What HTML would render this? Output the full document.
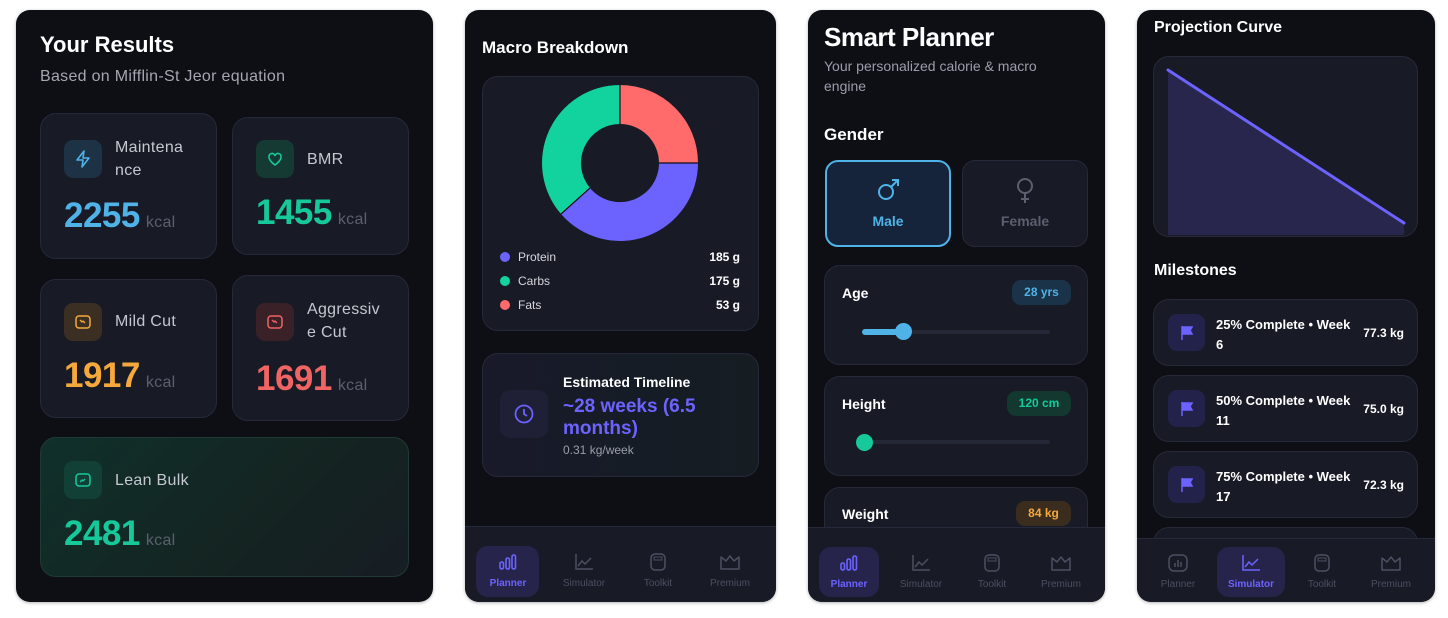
<!DOCTYPE html>
<html><head><meta charset="utf-8"><style>
*{box-sizing:border-box;margin:0;padding:0}
body{width:1448px;height:618px;background:#fff;position:relative;overflow:hidden;font-family:"Liberation Sans",sans-serif;color:#fff}
.a{position:absolute}
.p{position:absolute;background:#0e0f15;border-radius:14px;overflow:hidden;top:10px;height:592px;box-shadow:0 1px 3px rgba(0,0,0,.3)}
.c{position:absolute;background:#181a25;border:1px solid #262939;border-radius:16px}
.ib{position:absolute;width:38px;height:38px;border-radius:9px}
.lab{position:absolute;font-size:16px;color:#c5c8d0;line-height:23px;letter-spacing:.3px}
.num{position:absolute;font-size:35px;font-weight:bold;white-space:nowrap;letter-spacing:-.5px}
.num span{font-size:16px;font-weight:normal;color:#5b5f6e;margin-left:6px;letter-spacing:.3px}
.nav{position:absolute;left:0;right:0;bottom:0;background:#181a26;border-top:1px solid #262939}
.ni{position:absolute;top:0;width:70px;text-align:center;font-size:10px;color:#4b4f60}
.ni svg{display:block;margin:0 auto}
.ni div{margin-top:7px}
.pill{position:absolute;background:#26244a;border-radius:12px}
.bd{position:absolute;border-radius:9px;font-size:12px;font-weight:bold;text-align:center;line-height:25px}
.ms{position:absolute;left:16px;width:265px;height:67px}
.ms .ic{position:absolute;left:14px;top:14px;width:37px;height:37px;border-radius:9px;background:#23224a}
.ms .t{position:absolute;left:62px;top:15px;font-size:13px;font-weight:bold;line-height:20px;width:150px}
.ms .k{position:absolute;right:13px;top:26px;font-size:12px;font-weight:bold}
</style></head><body>

<!-- Panel 1 -->
<div class="p" style="left:16px;width:417px">
  <div class="a" style="left:24px;top:22px;font-size:22px;font-weight:bold">Your Results</div>
  <div class="a" style="left:24px;top:58px;font-size:16px;color:#a4a7b1;letter-spacing:.3px">Based on Mifflin-St Jeor equation</div>

  <div class="c" style="left:24px;top:103px;width:177px;height:146px"></div>
  <div class="ib" style="left:48px;top:130px;background:#1d3244"></div>
  <svg class="a" style="left:57px;top:139px" width="20" height="20" viewBox="0 0 20 20"><path d="M11 2L4 11h6l-1 7 7-9h-6z" fill="none" stroke="#4fb3e8" stroke-width="1.6" stroke-linejoin="round"/></svg>
  <div class="lab" style="left:99px;top:126px">Maintena<br>nce</div>
  <div class="num" style="left:48px;top:186px;color:#4fb3e8">2255<span>kcal</span></div>

  <div class="c" style="left:216px;top:107px;width:177px;height:138px"></div>
  <div class="ib" style="left:240px;top:130px;background:#143a33"></div>
  <svg class="a" style="left:249px;top:139px" width="20" height="20" viewBox="0 0 20 20"><path d="M10 16s-6-4-6-8a3 3 0 0 1 6-1 3 3 0 0 1 6 1c0 4-6 8-6 8z" fill="none" stroke="#15c99a" stroke-width="1.6"/></svg>
  <div class="lab" style="left:291px;top:138px">BMR</div>
  <div class="num" style="left:240px;top:183px;color:#15c99a">1455<span>kcal</span></div>

  <div class="c" style="left:24px;top:269px;width:177px;height:139px"></div>
  <div class="ib" style="left:48px;top:293px;background:#3a2f22"></div>
  <svg class="a" style="left:57px;top:302px" width="20" height="20" viewBox="0 0 20 20"><rect x="3" y="4" width="14" height="12" rx="3" fill="none" stroke="#f5a83b" stroke-width="1.5"/><path d="M7 8l2 2 1-1 2 2" fill="none" stroke="#f5a83b" stroke-width="1.3"/></svg>
  <div class="lab" style="left:99px;top:300px">Mild Cut</div>
  <div class="num" style="left:48px;top:346px;color:#f5a83b">1917<span>kcal</span></div>

  <div class="c" style="left:216px;top:265px;width:177px;height:146px"></div>
  <div class="ib" style="left:240px;top:293px;background:#3a2027"></div>
  <svg class="a" style="left:249px;top:302px" width="20" height="20" viewBox="0 0 20 20"><rect x="3" y="4" width="14" height="12" rx="3" fill="none" stroke="#f06464" stroke-width="1.5"/><path d="M7 8l2 2 1-1 2 2" fill="none" stroke="#f06464" stroke-width="1.3"/></svg>
  <div class="lab" style="left:291px;top:288px">Aggressiv<br>e Cut</div>
  <div class="num" style="left:240px;top:349px;color:#f06464">1691<span>kcal</span></div>

  <div class="c" style="left:24px;top:427px;width:369px;height:140px;background:linear-gradient(135deg,#10302b,#142421 60%,#171d24);border-color:#1f3a34"></div>
  <div class="ib" style="left:48px;top:451px;background:#124036"></div>
  <svg class="a" style="left:57px;top:460px" width="20" height="20" viewBox="0 0 20 20"><rect x="3" y="4" width="14" height="12" rx="3" fill="none" stroke="#15c99a" stroke-width="1.5"/><path d="M7 12l2-2 1 1 2-2" fill="none" stroke="#15c99a" stroke-width="1.3"/></svg>
  <div class="lab" style="left:99px;top:459px">Lean Bulk</div>
  <div class="num" style="left:48px;top:504px;color:#15c99a">2481<span>kcal</span></div>
</div>

<!-- Panel 2 -->
<div class="p" style="left:465px;width:311px">
  <div class="a" style="left:17px;top:28px;font-size:17px;font-weight:bold">Macro Breakdown</div>
  <div class="c" style="left:17px;top:66px;width:277px;height:255px"></div>
  <svg class="a" style="left:0;top:0" width="311" height="320">
    <path d="M155 75 A78 78 0 0 1 233 153 L194 153 A39 39 0 0 0 155 114 Z" fill="#ff6b6b"/>
    <path d="M233 153 A78 78 0 0 1 96 204 L125 178 A39 39 0 0 0 194 153 Z" fill="#6c63ff"/>
    <path d="M96 204 A78 78 0 0 1 155 75 L155 114 A39 39 0 0 0 125 178 Z" fill="#12d39e"/>
    <g stroke="#0e0f15" stroke-width="1.2"><line x1="155" y1="75" x2="155" y2="114"/><line x1="233" y1="153" x2="194" y2="153"/><line x1="96" y1="204" x2="125" y2="178"/></g>
  </svg>
  <div class="a" style="left:35px;top:242px;width:10px;height:10px;border-radius:5px;background:#6c63ff"></div>
  <div class="a" style="left:35px;top:266px;width:10px;height:10px;border-radius:5px;background:#12d39e"></div>
  <div class="a" style="left:35px;top:290px;width:10px;height:10px;border-radius:5px;background:#ff6b6b"></div>
  <div class="a" style="left:53px;top:235px;font-size:12px;line-height:24px;color:#d5d7de">Protein<br>Carbs<br>Fats</div>
  <div class="a" style="left:215px;top:235px;width:60px;text-align:right;font-size:12px;line-height:24px;font-weight:bold">185 g<br>175 g<br>53 g</div>

  <div class="c" style="left:17px;top:343px;width:277px;height:124px;background:linear-gradient(90deg,#181a2a,#151d22)"></div>
  <div class="a" style="left:35px;top:380px;width:48px;height:48px;border-radius:10px;background:#1f1f36"></div>
  <svg class="a" style="left:48px;top:393px" width="22" height="22" viewBox="0 0 22 22"><circle cx="11" cy="11" r="8.5" fill="none" stroke="#6c63ff" stroke-width="1.8"/><path d="M11 6v5l3 2" fill="none" stroke="#6c63ff" stroke-width="1.8"/></svg>
  <div class="a" style="left:98px;top:364px;font-size:14px;font-weight:bold">Estimated Timeline</div>
  <div class="a" style="left:98px;top:386px;font-size:19px;font-weight:bold;color:#6c63ff;line-height:22px">~28 weeks (6.5<br>months)</div>
  <div class="a" style="left:98px;top:433px;font-size:12px;color:#9a9daa">0.31 kg/week</div>

  <div class="nav" style="height:76px">
    <div class="pill" style="left:11px;top:19px;width:63px;height:51px"></div>
    <div class="ni" style="left:8px;top:26px;color:#6c63ff;font-weight:bold"><svg width="20" height="18"><g fill="none" stroke="#6c63ff" stroke-width="1.6"><rect x="2" y="9" width="3.5" height="7" rx="1.7"/><rect x="8" y="5" width="3.5" height="11" rx="1.7"/><rect x="14" y="2" width="3.5" height="14" rx="1.7"/></g></svg><div>Planner</div></div>
    <div class="ni" style="left:84px;top:26px"><svg width="20" height="18"><path d="M2 1v15h17M4 13l4-5 3 3 6-6" fill="none" stroke="#4b4f60" stroke-width="1.5"/></svg><div>Simulator</div></div>
    <div class="ni" style="left:158px;top:26px"><svg width="20" height="18"><rect x="3" y="1" width="14" height="16" rx="4" fill="none" stroke="#4b4f60" stroke-width="1.5"/><rect x="6" y="4" width="8" height="3" fill="none" stroke="#4b4f60"/></svg><div>Toolkit</div></div>
    <div class="ni" style="left:230px;top:26px"><svg width="22" height="18"><path d="M2 4l5 4 4-5 4 5 5-4v12H2z" fill="none" stroke="#4b4f60" stroke-width="1.5" stroke-linejoin="round"/></svg><div>Premium</div></div>
  </div>
</div>

<!-- Panel 3 -->
<div class="p" style="left:808px;width:297px">
  <div class="a" style="left:16px;top:12px;font-size:26px;font-weight:bold;letter-spacing:-.5px">Smart Planner</div>
  <div class="a" style="left:16px;top:46px;font-size:14px;line-height:20px;color:#9a9daa">Your personalized calorie &amp; macro<br>engine</div>
  <div class="a" style="left:16px;top:115px;font-size:17px;font-weight:bold">Gender</div>
  <div class="a" style="left:17px;top:150px;width:126px;height:87px;border:2px solid #4fb3e8;border-radius:13px;background:#15243a"></div>
  <svg class="a" style="left:67px;top:167px" width="26" height="26" viewBox="0 0 26 26"><circle cx="11" cy="15" r="7" fill="none" stroke="#4fb3e8" stroke-width="2"/><path d="M16 10l7-7M17 3h6v6" fill="none" stroke="#4fb3e8" stroke-width="2"/></svg>
  <div class="a" style="left:17px;top:203px;width:126px;text-align:center;font-size:14px;font-weight:bold;color:#4fb3e8">Male</div>
  <div class="c" style="left:154px;top:150px;width:126px;height:87px;border-radius:13px"></div>
  <svg class="a" style="left:205px;top:167px" width="24" height="28" viewBox="0 0 24 28"><circle cx="12" cy="9" r="7" fill="none" stroke="#5b5f6e" stroke-width="2"/><path d="M12 16v10M8 22h8" stroke="#5b5f6e" stroke-width="2"/></svg>
  <div class="a" style="left:154px;top:203px;width:126px;text-align:center;font-size:14px;font-weight:bold;color:#5b5f6e">Female</div>

  <div class="c" style="left:16px;top:255px;width:264px;height:100px"></div>
  <div class="a" style="left:34px;top:275px;font-size:14px;font-weight:bold">Age</div>
  <div class="bd" style="left:204px;top:270px;width:59px;background:#1b3348;color:#4fb3e8">28 yrs</div>
  <div class="a" style="left:54px;top:320px;width:188px;height:4px;border-radius:2px;background:#242736"></div>
  <div class="a" style="left:54px;top:319px;width:42px;height:6px;border-radius:3px;background:#4fb3e8"></div>
  <div class="a" style="left:87px;top:313px;width:17px;height:17px;border-radius:9px;background:#4fb3e8"></div>

  <div class="c" style="left:16px;top:366px;width:264px;height:100px"></div>
  <div class="a" style="left:34px;top:386px;font-size:14px;font-weight:bold">Height</div>
  <div class="bd" style="left:199px;top:381px;width:64px;background:#12382f;color:#15c99a">120 cm</div>
  <div class="a" style="left:54px;top:430px;width:188px;height:4px;border-radius:2px;background:#242736"></div>
  <div class="a" style="left:48px;top:424px;width:17px;height:17px;border-radius:9px;background:#15c99a"></div>

  <div class="c" style="left:16px;top:477px;width:264px;height:100px"></div>
  <div class="a" style="left:34px;top:496px;font-size:14px;font-weight:bold">Weight</div>
  <div class="bd" style="left:208px;top:491px;width:55px;background:#3a2d1e;color:#f5a83b">84 kg</div>

  <div class="nav" style="height:75px">
    <div class="pill" style="left:11px;top:19px;width:60px;height:50px"></div>
    <div class="ni" style="left:6px;top:26px;color:#6c63ff;font-weight:bold"><svg width="20" height="18"><g fill="none" stroke="#6c63ff" stroke-width="1.6"><rect x="2" y="9" width="3.5" height="7" rx="1.7"/><rect x="8" y="5" width="3.5" height="11" rx="1.7"/><rect x="14" y="2" width="3.5" height="14" rx="1.7"/></g></svg><div>Planner</div></div>
    <div class="ni" style="left:78px;top:26px"><svg width="20" height="18"><path d="M2 1v15h17M4 13l4-5 3 3 6-6" fill="none" stroke="#4b4f60" stroke-width="1.5"/></svg><div>Simulator</div></div>
    <div class="ni" style="left:149px;top:26px"><svg width="20" height="18"><rect x="3" y="1" width="14" height="16" rx="4" fill="none" stroke="#4b4f60" stroke-width="1.5"/><rect x="6" y="4" width="8" height="3" fill="none" stroke="#4b4f60"/></svg><div>Toolkit</div></div>
    <div class="ni" style="left:218px;top:26px"><svg width="22" height="18"><path d="M2 4l5 4 4-5 4 5 5-4v12H2z" fill="none" stroke="#4b4f60" stroke-width="1.5" stroke-linejoin="round"/></svg><div>Premium</div></div>
  </div>
</div>

<!-- Panel 4 -->
<div class="p" style="left:1137px;width:298px">
  <div class="a" style="left:17px;top:9px;font-size:16px;font-weight:bold">Projection Curve</div>
  <div class="c" style="left:16px;top:46px;width:265px;height:181px"></div>
  <svg class="a" style="left:0;top:0" width="298" height="240">
    <polygon points="31,60 267,213 267,225 31,225" fill="#28264d"/>
    <polyline points="31,60 267,213" fill="none" stroke="#6c63ff" stroke-width="3" stroke-linecap="round"/>
  </svg>
  <div class="a" style="left:17px;top:252px;font-size:16px;font-weight:bold">Milestones</div>

  <div class="c ms" style="top:289px"><div class="ic"></div><svg class="a" style="left:26px;top:25px" width="14" height="15"><path d="M2 1v14M2 2h10l-2 3.5 2 3.5H2" fill="#6c63ff" stroke="#6c63ff" stroke-width="1.5"/></svg><div class="t">25% Complete • Week<br>6</div><div class="k">77.3 kg</div></div>
  <div class="c ms" style="top:365px"><div class="ic"></div><svg class="a" style="left:26px;top:25px" width="14" height="15"><path d="M2 1v14M2 2h10l-2 3.5 2 3.5H2" fill="#6c63ff" stroke="#6c63ff" stroke-width="1.5"/></svg><div class="t">50% Complete • Week<br>11</div><div class="k">75.0 kg</div></div>
  <div class="c ms" style="top:441px"><div class="ic"></div><svg class="a" style="left:26px;top:25px" width="14" height="15"><path d="M2 1v14M2 2h10l-2 3.5 2 3.5H2" fill="#6c63ff" stroke="#6c63ff" stroke-width="1.5"/></svg><div class="t">75% Complete • Week<br>17</div><div class="k">72.3 kg</div></div>
  <div class="c ms" style="top:517px"></div>

  <div class="nav" style="height:64px">
    <div class="pill" style="left:80px;top:8px;width:68px;height:50px"></div>
    <div class="ni" style="left:6px;top:15px"><svg width="20" height="18"><rect x="1" y="1" width="18" height="16" rx="5" fill="none" stroke="#4b4f60" stroke-width="1.5"/><path d="M7 13V9M10 13V6M13 13V8" stroke="#4b4f60" stroke-width="1.5"/></svg><div>Planner</div></div>
    <div class="ni" style="left:79px;top:15px;color:#6c63ff;font-weight:bold"><svg width="20" height="18"><path d="M2 1v15h17M4 13l4-5 3 3 6-6" fill="none" stroke="#6c63ff" stroke-width="1.5"/></svg><div>Simulator</div></div>
    <div class="ni" style="left:150px;top:15px"><svg width="20" height="18"><rect x="3" y="1" width="14" height="16" rx="4" fill="none" stroke="#4b4f60" stroke-width="1.5"/><rect x="6" y="4" width="8" height="3" fill="none" stroke="#4b4f60"/></svg><div>Toolkit</div></div>
    <div class="ni" style="left:219px;top:15px"><svg width="22" height="18"><path d="M2 4l5 4 4-5 4 5 5-4v12H2z" fill="none" stroke="#4b4f60" stroke-width="1.5" stroke-linejoin="round"/></svg><div>Premium</div></div>
  </div>
</div>
</body></html>
